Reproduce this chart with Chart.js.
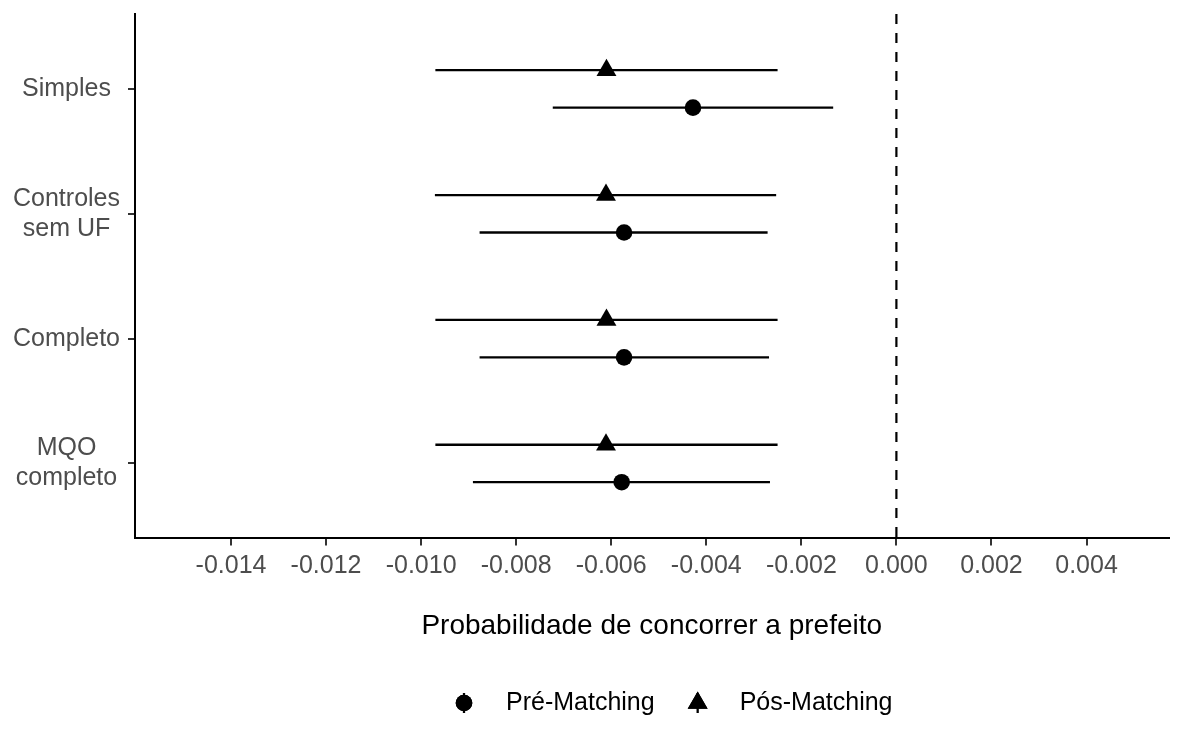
<!DOCTYPE html>
<html>
<head>
<meta charset="utf-8">
<script src="https://cdn.jsdelivr.net/npm/chart.js@4"></script>
<style>
  html, body { margin: 0; padding: 0; background: #ffffff; }
  canvas { display: block; }
</style>
</head>
<body>
<canvas id="c" width="1180" height="730"></canvas>
<script>
// Model specifications, top to bottom
const categories = [["Simples"], ["Controles", "sem UF"], ["Completo"], ["MQO", "completo"]];

// Pré-Matching estimates and 95% intervals
const preEstimate = [-0.00428, -0.00573, -0.00573, -0.00578];
const preLower    = [-0.00723, -0.00877, -0.00877, -0.00891];
const preUpper    = [-0.00133, -0.00271, -0.00268, -0.00266];

// Pós-Matching estimates and 95% intervals
const posEstimate = [-0.00610, -0.00611, -0.00610, -0.00611];
const posLower    = [-0.00970, -0.00971, -0.00970, -0.00970];
const posUpper    = [-0.00250, -0.00253, -0.00250, -0.00250];

const seriesNames = ["Pré-Matching", "Pós-Matching"];
const xTickValues = [-0.014, -0.012, -0.010, -0.008, -0.006, -0.004, -0.002, 0.000, 0.002, 0.004];
const xTitle = "Probabilidade de concorrer a prefeito";
const referenceValue = 0;

const FONT = "'Liberation Sans', Arial, sans-serif";
const DODGE = 0.15;

// row position on the y scale: first category at the top
const rowPos = i => categories.length - i;

const series = [
  { name: seriesNames[0], est: preEstimate, lo: preLower, hi: preUpper, offset: -DODGE, style: 'circle', radius: 8.3 },
  { name: seriesNames[1], est: posEstimate, lo: posLower, hi: posUpper, offset: DODGE, style: 'triangle', radius: 11.5 }
];

// horizontal interval lines and the dashed reference line
const intervalPlugin = {
  id: 'intervals',
  beforeDatasetsDraw(chart) {
    const { ctx, scales: { x, y }, chartArea } = chart;
    ctx.save();
    // reference line
    const x0 = x.getPixelForValue(referenceValue);
    ctx.strokeStyle = '#000';
    ctx.lineWidth = 2.2;
    ctx.setLineDash([10, 9]);
    ctx.beginPath();
    ctx.moveTo(x0, chartArea.top);
    ctx.lineTo(x0, chartArea.bottom);
    ctx.stroke();
    ctx.setLineDash([]);
    // intervals
    ctx.lineWidth = 2.3;
    series.forEach(s => {
      s.est.forEach((_, i) => {
        const py = y.getPixelForValue(rowPos(i) + s.offset);
        ctx.beginPath();
        ctx.moveTo(x.getPixelForValue(s.lo[i]), py);
        ctx.lineTo(x.getPixelForValue(s.hi[i]), py);
        ctx.stroke();
      });
    });
    ctx.restore();
  }
};

// legend below the axis title: symbol with a vertical stroke, then the name
const legendPlugin = {
  id: 'bottomLegend',
  afterDraw(chart) {
    const { ctx } = chart;
    ctx.save();
    ctx.font = `25px ${FONT}`;
    ctx.textBaseline = 'middle';
    ctx.textAlign = 'left';
    const cy = 703;
    let left = 452;
    series.forEach(s => {
      const cx = left + 12;
      ctx.strokeStyle = '#000';
      ctx.lineWidth = 2.3;
      ctx.beginPath();
      ctx.moveTo(cx, cy - 10);
      ctx.lineTo(cx, cy + 10);
      ctx.stroke();
      ctx.fillStyle = '#000';
      Chart.helpers.drawPoint(ctx, { pointStyle: s.style, radius: s.radius, borderWidth: 0 }, cx, cy);
      ctx.fill();
      const tx = left + 54;
      ctx.fillStyle = '#000';
      ctx.fillText(s.name, tx, cy);
      left = tx + ctx.measureText(s.name).width + 31;
    });
    ctx.restore();
  }
};

const datasets = series.map(s => ({
  label: s.name,
  data: s.est.map((v, i) => ({ x: v, y: rowPos(i) + s.offset })),
  pointStyle: s.style,
  pointRadius: s.radius,
  pointHoverRadius: s.radius,
  backgroundColor: '#000',
  borderColor: '#000',
  borderWidth: 0,
  showLine: false
}));

const axisGrid = { display: true, drawOnChartArea: false, drawTicks: true, tickLength: 7, color: '#333', lineWidth: 2 };
const axisBorder = { display: true, color: '#000', width: 2 };

new Chart(document.getElementById('c'), {
  type: 'scatter',
  data: { datasets },
  options: {
    responsive: false,
    animation: false,
    devicePixelRatio: 1,
    layout: { padding: { left: 5, top: 14, right: 10, bottom: 87 } },
    plugins: { legend: { display: false }, tooltip: { enabled: false } },
    scales: {
      x: {
        type: 'linear',
        min: -0.01602,
        max: 0.005725,
        afterBuildTicks: s => { s.ticks = xTickValues.map(v => ({ value: v })); },
        afterFit: s => { s.paddingLeft = 0; s.paddingRight = 0; },
        ticks: {
          callback: v => v.toFixed(3),
          font: { family: FONT, size: 25 },
          color: '#4D4D4D',
          padding: 6,
          maxRotation: 0,
          autoSkip: false
        },
        grid: axisGrid,
        border: axisBorder,
        title: {
          display: true,
          text: xTitle,
          font: { family: FONT, size: 28 },
          color: '#000',
          padding: { top: 22, bottom: 0 }
        }
      },
      y: {
        type: 'linear',
        min: 0.4,
        max: 4.6,
        afterBuildTicks: s => { s.ticks = categories.map((_, i) => ({ value: rowPos(i) })).reverse(); },
        afterFit: s => { s.paddingTop = 0; s.paddingBottom = 0; },
        ticks: {
          callback: v => categories[categories.length - v],
          font: { family: FONT, size: 25 },
          color: '#4D4D4D',
          padding: 8,
          crossAlign: 'center',
          autoSkip: false
        },
        grid: axisGrid,
        border: axisBorder
      }
    }
  },
  plugins: [intervalPlugin, legendPlugin]
});
</script>
</body>
</html>
